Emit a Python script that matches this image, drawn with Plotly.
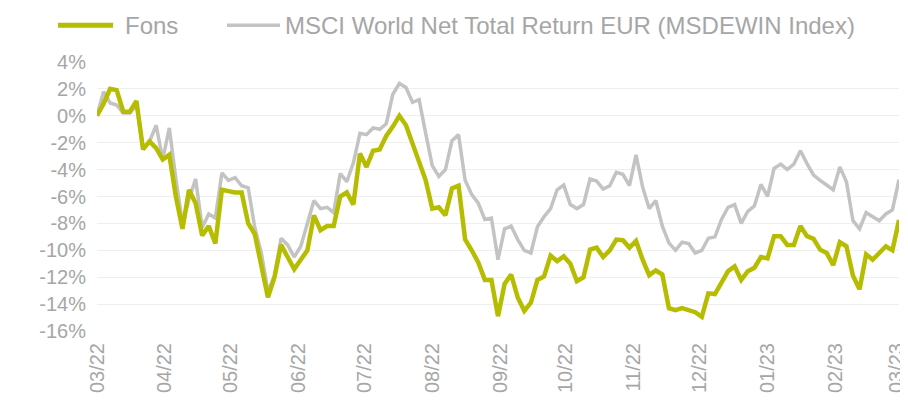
import pandas as pd
import plotly.graph_objects as go

# sampling dates (every 3 days from 01/03/2022)
dates = pd.date_range("2022-03-01", periods=123, freq="3D")

fons = [
    0.0, 0.9, 2.0, 1.9, 0.3, 0.3, 1.1, -2.5, -1.9, -2.4,
    -3.25, -2.9, -6.0, -8.4, -5.5, -6.5, -8.9, -8.2, -9.5, -5.5,
    -5.6, -5.7, -5.7, -8.0, -8.8, -11.2, -13.5, -12.0, -9.6, -10.5,
    -11.4, -10.7, -10.0, -7.4, -8.5, -8.2, -8.2, -6.0, -5.7, -6.6,
    -2.8, -3.8, -2.6, -2.5, -1.5, -0.8, 0.0, -0.7, -2.0, -3.5,
    -4.8, -6.9, -6.8, -7.4, -5.4, -5.2, -9.2, -10.0, -10.9, -12.2,
    -12.2, -14.9, -12.5, -11.8, -13.5, -14.5, -13.9, -12.2, -11.95, -10.4,
    -10.8, -10.45, -11.0, -12.3, -12.0, -9.95, -9.8, -10.5, -10.0, -9.2,
    -9.25, -9.8, -9.3, -10.7, -11.85, -11.5, -11.8, -14.3, -14.45, -14.3,
    -14.45, -14.6, -14.95, -13.2, -13.25, -12.4, -11.55, -11.2, -12.2, -11.55,
    -11.3, -10.5, -10.6, -8.95, -8.95, -9.6, -9.6, -8.2, -8.95, -9.15,
    -9.95, -10.2, -11.1, -9.4, -9.7, -11.9, -12.9, -10.3, -10.7, -10.2,
    -9.7, -10.0, -7.75,
]

msci = [
    0.0, 1.8, 0.95, 0.8, 0.2, 0.2, 0.8, -2.4, -1.9, -0.7,
    -3.25, -0.9, -4.7, -8.0, -6.2, -4.7, -8.3, -7.3, -7.6, -4.25,
    -4.8, -4.6, -5.2, -5.35, -8.3, -10.2, -13.05, -11.9, -9.1, -9.6,
    -10.5, -9.7, -8.0, -6.3, -6.9, -6.8, -7.2, -4.3, -4.9, -3.5,
    -1.3, -1.4, -0.9, -1.0, -0.6, 1.6, 2.4, 2.1, 1.0, 1.2,
    -1.3, -3.7, -4.5, -4.0, -1.85, -1.4, -4.8, -5.85, -6.5, -7.7,
    -7.6, -10.7, -8.4, -8.2, -9.2, -10.0, -10.2, -8.25, -7.5, -6.9,
    -5.5, -5.15, -6.6, -6.9, -6.6, -4.7, -4.85, -5.45, -5.2, -4.2,
    -4.35, -5.2, -2.9, -5.3, -6.9, -6.3, -8.2, -9.45, -10.0, -9.4,
    -9.5, -10.2, -10.0, -9.1, -9.0, -7.7, -6.8, -6.6, -8.0, -7.1,
    -6.7, -5.1, -6.0, -3.9, -3.6, -4.0, -3.6, -2.6, -3.55, -4.4,
    -4.8, -5.15, -5.5, -3.8, -4.9, -7.8, -8.4, -7.2, -7.5, -7.8,
    -7.3, -7.0, -4.75,
]

series_names = ["Fons", "MSCI World Net Total Return EUR (MSDEWIN Index)"]

tick_dates = pd.date_range("2022-03-01", "2023-03-01", freq="MS")
tick_labels = ["03/22", "04/22", "05/22", "06/22", "07/22", "08/22", "09/22",
               "10/22", "11/22", "12/22", "01/23", "02/23", "03/23"]
y_vals = [4, 2, 0, -2, -4, -6, -8, -10, -12, -14, -16]
y_labels = ["4%", "2%", "0%", "-2%", "-4%", "-6%", "-8%", "-10%", "-12%", "-14%", "-16%"]

GREEN = "#b6bd00"
GREY = "#c3c3c3"
TXT = "#a6a6a6"
FONT = "Arial, Liberation Sans, sans-serif"

fig = go.Figure()
fig.add_trace(go.Scatter(x=dates, y=msci, mode="lines", name=series_names[1],
                         line=dict(color=GREY, width=3.5), showlegend=False))
fig.add_trace(go.Scatter(x=dates, y=fons, mode="lines", name=series_names[0],
                         line=dict(color=GREEN, width=4.5), showlegend=False))

# legend drawn above the plot
legend_y = 1.137
fig.add_shape(type="line", xref="paper", yref="paper", x0=-0.0486, x1=0.0200,
              y0=legend_y, y1=legend_y, line=dict(color=GREEN, width=5))
fig.add_shape(type="line", xref="paper", yref="paper", x0=0.1621, x1=0.2282,
              y0=legend_y, y1=legend_y, line=dict(color=GREY, width=3.5))
fig.add_annotation(xref="paper", yref="paper", x=0.0330, y=legend_y,
                   xanchor="left", yanchor="middle", text=series_names[0],
                   showarrow=False, font=dict(family=FONT, size=24, color=TXT))
fig.add_annotation(xref="paper", yref="paper", x=0.2320, y=legend_y,
                   xanchor="left", yanchor="middle", text=series_names[1],
                   showarrow=False, font=dict(family=FONT, size=24, color=TXT))

# the page places the figure 8px from the top-left corner
fig.update_layout(
    width=900, height=398,
    margin=dict(l=89, r=9, t=53.5, b=75, autoexpand=False),
    paper_bgcolor="white", plot_bgcolor="white",
    font=dict(family=FONT, size=20, color=TXT),
    showlegend=False,
    xaxis=dict(type="date", range=[pd.Timestamp("2022-03-01"), pd.Timestamp("2023-03-02")],
               tickvals=tick_dates, ticktext=tick_labels, tickangle=-90,
               showgrid=False, zeroline=False, showline=False, automargin=False,
               ticks="outside", ticklen=3, tickcolor="rgba(0,0,0,0)",
               tickfont=dict(family=FONT, size=20, color=TXT)),
    yaxis=dict(range=[-16, 4], tickvals=y_vals, ticktext=y_labels,
               showgrid=True, gridcolor="#efefef", gridwidth=1,
               zeroline=False, showline=False, automargin=False,
               ticks="outside", ticklen=6, tickcolor="rgba(0,0,0,0)",
               tickfont=dict(family=FONT, size=20, color=TXT)),
)

fig.write_html("out.html")
